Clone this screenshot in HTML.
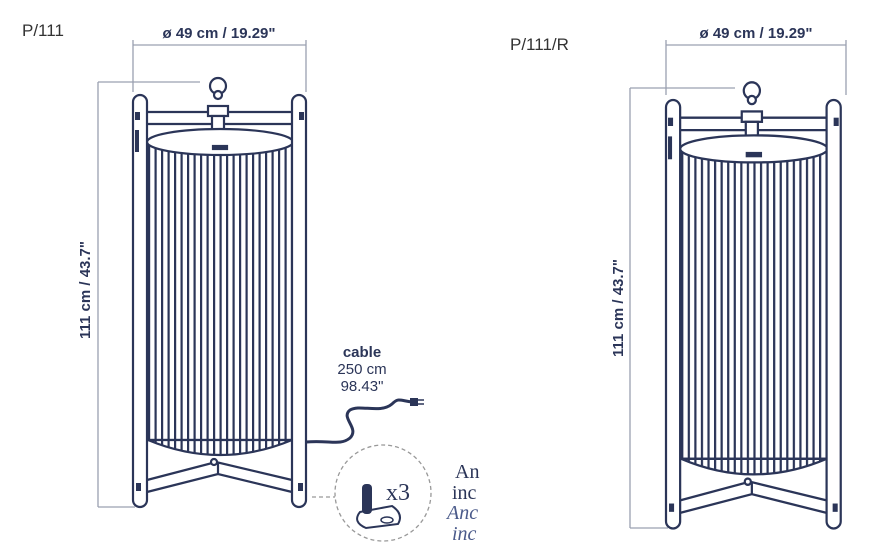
<!DOCTYPE html>
<html><head><meta charset="utf-8"><style>
html,body{margin:0;padding:0;background:#fff;}
svg{display:block;}
text{font-family:"Liberation Sans",sans-serif;}
text.sf{font-family:"Liberation Serif",serif;}
</style></head><body>
<svg width="892" height="560" viewBox="0 0 892 560" xmlns="http://www.w3.org/2000/svg">
<defs>
<pattern id="st" x="148" y="0" width="6.5" height="10" patternUnits="userSpaceOnUse">
<rect width="6.5" height="10" fill="#fff"/><rect x="0" width="2.2" height="10" fill="#2b3558"/>
</pattern>
<g id="lamp" stroke="#2b3558" fill="#fff" stroke-width="2.2">
<circle cx="218" cy="86" r="8"/>
<circle cx="218" cy="95" r="4"/>
<path d="M147 112 L292 112 M147 124 L292 124" />
<rect x="208" y="106" width="20" height="10"/>
<rect x="212" y="116" width="12" height="16"/>
<rect x="148" y="140" width="144" height="300" fill="url(#st)"/>
<path d="M148 440 Q220 470 292 440 Z" fill="url(#st)"/>
<ellipse cx="220" cy="142" rx="73" ry="13"/>
<rect x="213" y="146" width="14" height="3" fill="#2b3558"/>
<path d="M147 480 L216 462 L292 480 M147 492 L218 474 L292 492 M218 462 L218 474" fill="none"/>
<circle cx="214" cy="462" r="3"/>
<rect x="133" y="95" width="14" height="412" rx="7"/>
<rect x="292" y="95" width="14" height="412" rx="7"/>
<rect x="135" y="130" width="4" height="22" fill="#2b3558" stroke="none"/>
<rect x="135" y="112" width="5" height="8" fill="#2b3558" stroke="none"/>
<rect x="299" y="112" width="5" height="8" fill="#2b3558" stroke="none"/>
<rect x="136" y="483" width="5" height="8" fill="#2b3558" stroke="none"/>
<rect x="298" y="483" width="5" height="8" fill="#2b3558" stroke="none"/>
</g>
</defs>

<text x="22" y="36" font-size="17" fill="#333">P/111</text>
<text x="510" y="50" font-size="17" fill="#333">P/111/R</text>

<g stroke="#9aa0b0" stroke-width="1.3" fill="none">
<path d="M133 45 L306 45 M133 40 L133 92 M306 40 L306 92"/>
<path d="M98 82 L98 507 M98 82 L200 82 M98 507 L135 507"/>
<path d="M666 45 L846 45 M666 40 L666 95 M846 40 L846 95"/>
<path d="M630 88 L630 528 M630 88 L735 88 M630 528 L668 528"/>
</g>
<text x="219" y="38" font-size="15" font-weight="bold" fill="#2b3558" text-anchor="middle">ø 49 cm / 19.29"</text>
<text x="756" y="38" font-size="15" font-weight="bold" fill="#2b3558" text-anchor="middle">ø 49 cm / 19.29"</text>
<text font-size="15" font-weight="bold" fill="#2b3558" text-anchor="middle" transform="translate(90,290) rotate(-90)">111 cm / 43.7"</text>
<text font-size="15" font-weight="bold" fill="#2b3558" text-anchor="middle" transform="translate(623,308) rotate(-90)">111 cm / 43.7"</text>

<use href="#lamp"/>
<use href="#lamp" transform="translate(666,100) scale(1.01,1.04) translate(-133,-95)"/>

<text x="362" y="357" font-size="15" font-weight="bold" fill="#2b3558" text-anchor="middle">cable</text>
<text x="362" y="374" font-size="15" fill="#2b3558" text-anchor="middle">250 cm</text>
<text x="362" y="391" font-size="15" fill="#2b3558" text-anchor="middle">98.43"</text>
<path d="M306 442 C330 440 340 446 350 438 C360 428 340 418 350 410 C360 404 380 414 392 404 C398 398 398 400 412 402" fill="none" stroke="#2b3558" stroke-width="3"/>
<rect x="410" y="398" width="8" height="8" fill="#2b3558"/>
<path d="M418 400 L424 400 M418 404 L424 404" stroke="#2b3558" stroke-width="1.5"/>

<path d="M312 497 L335 497" stroke="#999" stroke-width="1.3" stroke-dasharray="4,3"/>
<circle cx="383" cy="493" r="48" fill="none" stroke="#999" stroke-width="1.3" stroke-dasharray="4,3"/>
<path d="M360 512 L392 506 Q404 514 398 524 L366 528 Q352 522 360 512 Z" fill="#fff" stroke="#2b3558" stroke-width="2"/>
<rect x="362" y="484" width="10" height="30" rx="4" fill="#2b3558"/>
<ellipse cx="387" cy="520" rx="6" ry="3" fill="none" stroke="#2b3558" stroke-width="1.5"/>
<text class="sf" x="386" y="500" font-size="24" fill="#2b3558">x3</text>
<svg x="0" y="0" width="484" height="560">
<text class="sf" x="455" y="478" font-size="20" fill="#2b3558">An</text>
<text class="sf" x="452" y="499" font-size="20" fill="#2b3558">inc</text>
<text class="sf" x="447" y="519" font-size="20" font-style="italic" fill="#4a5a8a">Anc</text>
<text class="sf" x="452" y="540" font-size="20" font-style="italic" fill="#4a5a8a">inc</text>
</svg>
</svg>
</body></html>
